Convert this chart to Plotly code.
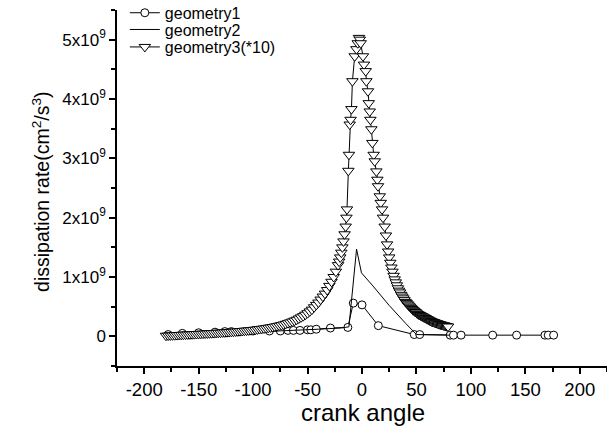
import plotly.graph_objects as go

# ---------------- data (values in units of 1e9 cm^2/s^3) ----------------
g1_x = [-178, -165, -150, -135, -126, -120, -100, -85, -75, -68, -63, -57, -50, -47, -42,
        -29, -13, -8, 0, 15, 48, 53, 81, 84, 91, 120, 142, 168, 171, 176]
g1_y = [0.03, 0.05, 0.06, 0.07, 0.08, 0.08, 0.09, 0.09, 0.09, 0.10, 0.10, 0.10, 0.11, 0.11, 0.12,
        0.14, 0.15, 0.56, 0.53, 0.18, 0.03, 0.03, 0.02, 0.02, 0.02, 0.02, 0.02, 0.02, 0.02, 0.02]

g2_x = [-180, -150, -120, -90, -60, -40, -20, -12, -5, -0.5, 10, 25, 40, 50, 80]
g2_y = [0.01, 0.04, 0.06, 0.08, 0.10, 0.12, 0.14, 0.16, 1.47, 1.07, 0.85, 0.52, 0.22, 0.03, 0.02]

g3_x = [-180, -178, -176, -174, -172, -170, -168, -166, -164, -162, -160, -158, -156, -154,
        -152, -150, -148, -146, -144, -142, -140, -138, -136, -134, -132, -130, -128, -126,
        -124, -122, -120, -118, -116, -114, -112, -110, -108, -106, -104, -102, -100, -98,
        -96, -94, -92, -90, -88, -86, -84, -82, -80, -78, -76, -74, -72, -70, -68, -66,
        -64, -62, -60, -58, -56, -54, -52, -50, -48, -46, -44, -42, -40, -38, -36, -34,
        -32, -30, -28, -26, -24, -22, -21, -20, -19, -18, -17, -16, -15,
        -14.3, -13.8, -12.5, -12, -11.3, -10.5, -9.7, -8.8, -6.7, -5.1, -3.9, -2.8, -2, -1.2,
        0.9, 1.8, 3.4, 4.0, 5.5, 6.2, 7.1, 7.7, 8.6, 9.5, 10.7, 11.7, 13.2, 14.1, 14.7,
        16.3, 17.2, 18.4, 19.3, 20.8,
        22, 23, 24, 25, 26, 27, 28, 29, 30, 31, 32, 33, 34, 35, 36, 37, 38, 39, 40,
        41, 42, 43, 44, 45, 46, 47, 48, 49, 50, 51, 52, 53, 54, 55, 56, 57, 58, 59, 60,
        61, 62, 63, 64, 65, 66, 67, 68, 69, 70, 71, 72, 73, 74, 75, 76, 77, 78, 79]
g3_y = [0.010, 0.013, 0.015, 0.017, 0.019, 0.021, 0.023, 0.025, 0.027, 0.029, 0.031, 0.033,
        0.035, 0.037, 0.039, 0.041, 0.043, 0.045, 0.047, 0.049, 0.051, 0.053, 0.055, 0.058,
        0.060, 0.062, 0.065, 0.067, 0.070, 0.072, 0.075, 0.078, 0.081, 0.084, 0.087, 0.090,
        0.094, 0.097, 0.100, 0.104, 0.108, 0.112, 0.117, 0.122, 0.127, 0.132, 0.138, 0.144,
        0.150, 0.157, 0.164, 0.172, 0.180, 0.189, 0.199, 0.210, 0.222, 0.235, 0.249, 0.264,
        0.280, 0.300, 0.320, 0.340, 0.365, 0.390, 0.420, 0.450, 0.490, 0.530, 0.570, 0.620,
        0.670, 0.720, 0.780, 0.850, 0.920, 1.000, 1.090, 1.200, 1.260, 1.330, 1.410, 1.500,
        1.600, 1.720, 1.850,
        2.00, 2.14, 2.79, 3.06, 3.57, 3.65, 3.83, 4.30, 4.72, 4.84, 4.94, 5.03, 5.00, 4.94,
        4.72, 4.58, 4.47, 4.30, 4.13, 3.93, 3.79, 3.65, 3.49, 3.26, 3.06, 2.95, 2.78, 2.64, 2.53,
        2.36, 2.25, 2.14, 2.00, 1.85,
        1.70, 1.55, 1.43, 1.33, 1.24, 1.16, 1.09, 1.02, 0.96, 0.91, 0.86, 0.81, 0.77, 0.74,
        0.70, 0.67, 0.64, 0.61, 0.58,
        0.56, 0.54, 0.52, 0.50, 0.48, 0.46, 0.44, 0.43, 0.41, 0.40, 0.38, 0.37, 0.36, 0.35,
        0.34, 0.33, 0.32, 0.31, 0.30, 0.29,
        0.28, 0.27, 0.26, 0.25, 0.245, 0.24, 0.23, 0.225, 0.22, 0.21, 0.205, 0.20, 0.195,
        0.19, 0.185, 0.18, 0.175, 0.17, 0.165]

x_ticks = [-200, -150, -100, -50, 0, 50, 100, 150, 200]
y_ticks = [0, 1, 2, 3, 4, 5]
y_tick_text = ["0", "1x10<sup>9</sup>", "2x10<sup>9</sup>", "3x10<sup>9</sup>",
               "4x10<sup>9</sup>", "5x10<sup>9</sup>"]

FONT = "Arial, Liberation Sans, sans-serif"

fig = go.Figure()
fig.add_trace(go.Scatter(
    x=g1_x, y=g1_y, name="geometry1", mode="lines+markers", legend="legend",
    line=dict(color="black", width=1),
    marker=dict(symbol="circle", size=8, color="white", line=dict(color="black", width=1)),
))
fig.add_trace(go.Scatter(
    x=g2_x, y=g2_y, name="geometry2", mode="lines", legend="legend2",
    line=dict(color="black", width=1),
))
fig.add_trace(go.Scatter(
    x=g3_x, y=g3_y, name="geometry3(*10)", mode="lines+markers", legend="legend3",
    line=dict(color="black", width=1),
    marker=dict(symbol="triangle-down", size=10, color="white", line=dict(color="black", width=1)),
))

def leg(ypos):
    return dict(x=0.016, y=ypos, xanchor="left", yanchor="middle",
                bgcolor="rgba(0,0,0,0)", font=dict(size=16, family=FONT),
                borderwidth=0, itemwidth=30)

fig.update_layout(
    width=607, height=435,
    margin=dict(l=117, r=0, t=10, b=69, autoexpand=False),
    paper_bgcolor="white", plot_bgcolor="white",
    font=dict(family=FONT, color="black", size=18),
    showlegend=True,
    legend=leg(0.992), legend2=leg(0.945), legend3=leg(0.896),
    xaxis=dict(range=[-225, 225], tickmode="array", tickvals=x_ticks,
               ticktext=[str(v) for v in x_ticks], automargin=False,
               showgrid=False, zeroline=False, showline=True, linecolor="black", linewidth=1.5,
               ticks="outside", ticklen=6, tickwidth=1.5, tickcolor="black",
               tickfont=dict(size=18.5),
               minor=dict(tickmode="linear", tick0=-225, dtick=25, ticks="outside", ticklen=4,
                          tickwidth=1.5, tickcolor="black", showgrid=False)),
    yaxis=dict(range=[-0.5, 5.5], tickmode="array", tickvals=y_ticks, ticktext=y_tick_text,
               automargin=False,
               showgrid=False, zeroline=False, showline=True, linecolor="black", linewidth=1.5,
               ticks="outside", ticklen=6, tickwidth=1.5, tickcolor="black",
               tickfont=dict(size=17),
               minor=dict(tickmode="linear", tick0=-0.5, dtick=0.5, ticks="outside", ticklen=4,
                          tickwidth=1.5, tickcolor="black", showgrid=False)),
    annotations=[
        dict(text="crank angle", xref="paper", yref="paper", x=0.502, y=-0.131,
             xanchor="center", yanchor="middle", showarrow=False, font=dict(size=24)),
        dict(text="dissipation rate(cm<sup>2</sup>/s<sup>3</sup>)", xref="paper", yref="paper",
             x=-0.155, y=0.489, xanchor="center", yanchor="middle", textangle=-90,
             showarrow=False, font=dict(size=19.5)),
    ],
)

# remove the page's default 8px body margin so the figure fills the window exactly
fig.write_html("out.html", config={"displayModeBar": False},
               post_script="document.body.style.margin='0px';")
